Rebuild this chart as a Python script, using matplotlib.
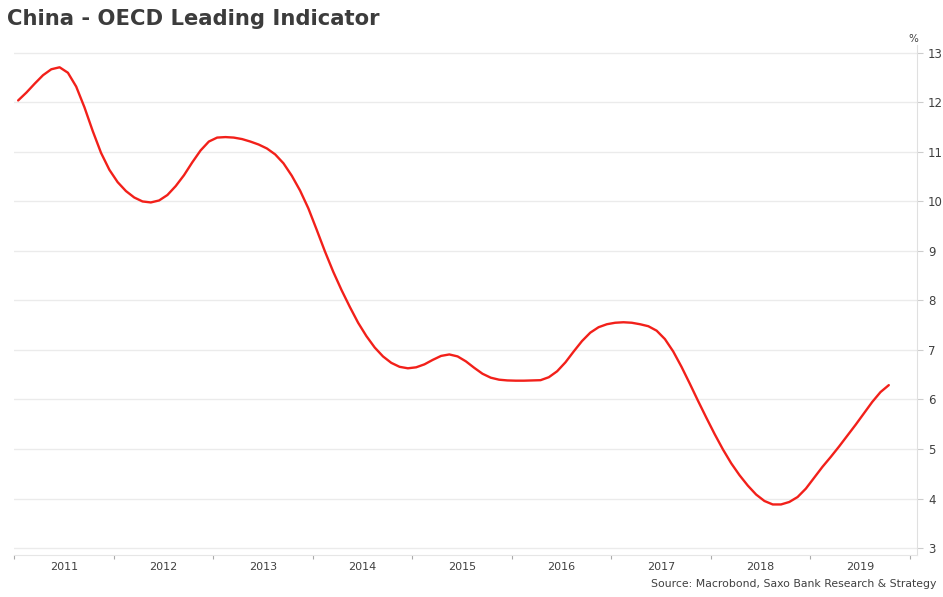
import numpy as np
import matplotlib
matplotlib.use("Agg")
import matplotlib.pyplot as plt

# China OECD leading indicator, monthly Jan 2011 - Oct 2019 (%)
values = [
    12.04, 12.20, 12.38, 12.55, 12.67, 12.71, 12.60, 12.32, 11.90, 11.42,
    10.98, 10.64, 10.39, 10.21, 10.08, 10.00, 9.98, 10.02, 10.13, 10.31,
    10.53, 10.79, 11.03, 11.21, 11.29, 11.30, 11.29, 11.26, 11.21, 11.15,
    11.07, 10.95, 10.77, 10.52, 10.22, 9.86, 9.43, 8.99, 8.58, 8.21,
    7.87, 7.55, 7.28, 7.05, 6.87, 6.74, 6.66, 6.63, 6.65, 6.71,
    6.80, 6.88, 6.91, 6.87, 6.77, 6.64, 6.52, 6.44, 6.40, 6.385,
    6.38, 6.38, 6.385, 6.39, 6.45, 6.57, 6.75, 6.97, 7.18, 7.35,
    7.46, 7.52, 7.55, 7.56, 7.55, 7.52, 7.48, 7.39, 7.22, 6.97,
    6.66, 6.32, 5.97, 5.63, 5.30, 4.99, 4.71, 4.47, 4.26, 4.08,
    3.95, 3.88, 3.88, 3.93, 4.03, 4.20, 4.42, 4.64, 4.84, 5.05,
    5.27, 5.49, 5.72, 5.95, 6.15, 6.29,
]
start_year = 2011
years = list(range(2011, 2020))
title = "China - OECD Leading Indicator"
source = "Source: Macrobond, Saxo Bank Research & Strategy"

# mid-month positions in decimal years
x = start_year + (np.arange(len(values)) + 0.5) / 12

fig = plt.figure(figsize=(9.43, 5.97), dpi=100)
ax = fig.add_axes([14 / 943, 1 - 555 / 597, (917 - 14) / 943, (555 - 45) / 597])

ax.plot(x, values, color="#f2201a", lw=1.7, solid_capstyle="round", solid_joinstyle="round")

ax.set_xlim(2011.0, 2020.075)
ax.set_ylim(2.859, 13.16)

# y axis on the right
ax.yaxis.tick_right()
ax.set_yticks(range(3, 14))
ax.grid(axis="y", color="#ebebeb", lw=1)
ax.set_axisbelow(True)

# x ticks at year boundaries, labels centred in each year
ax.set_xticks(range(2011, 2021))
ax.set_xticklabels([])
ax.set_xticks([y + 0.5 for y in years], minor=True)
ax.set_xticklabels([str(y) for y in years], minor=True)
ax.tick_params(axis="x", which="major", length=3, color="#aaaaaa", direction="out")
ax.tick_params(axis="x", which="minor", length=0, pad=5, labelsize=8, labelcolor="#404040")
ax.tick_params(axis="y", length=4, color="#cccccc", pad=4, labelsize=8.5, labelcolor="#404040")

for s in ["top", "left"]:
    ax.spines[s].set_visible(False)
ax.spines["right"].set_color("#e0e0e0")
ax.spines["bottom"].set_color("#e6e6e6")

fig.text(7 / 943, 1 - 19 / 597, title, fontsize=15.2, fontweight="bold",
         color="#3c3c3c", va="center", ha="left")
fig.text(913 / 943, 1 - 39 / 597, "%", fontsize=7.5, color="#404040",
         va="center", ha="center")
fig.text(936 / 943, 1 - 584 / 597, source, fontsize=7.8, color="#404040",
         va="center", ha="right")

fig.savefig("out.png", dpi=100)
